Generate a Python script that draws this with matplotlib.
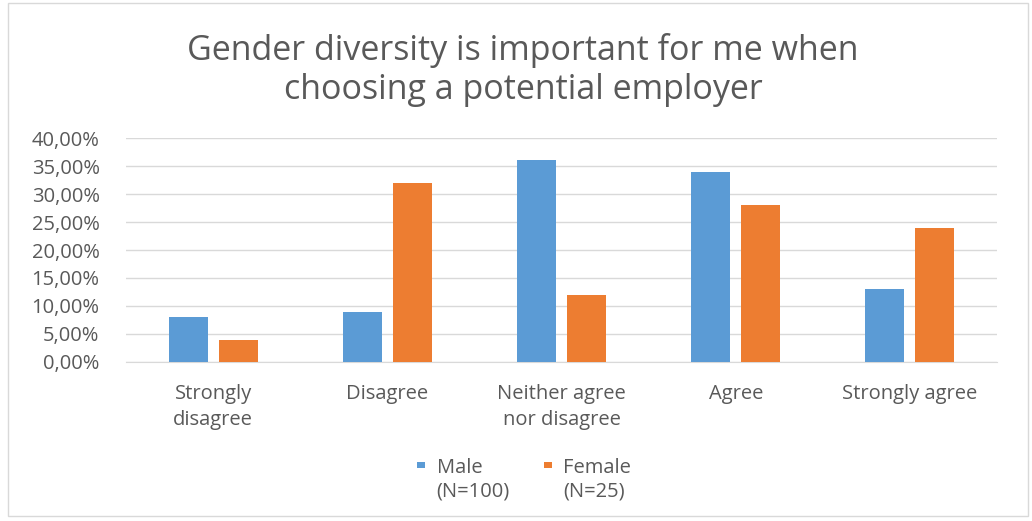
import matplotlib.pyplot as plt
import numpy as np
from matplotlib.patches import Rectangle
from matplotlib.ticker import FuncFormatter

#Chart data (percent of respondents).
categories = ['Strongly\ndisagree', 'Disagree', 'Neither agree\nnor disagree', 'Agree', 'Strongly agree']
series_names = ['Male\n(N=100)', 'Female\n(N=25)']
male = [8, 9, 36, 34, 13]
female = [4, 32, 12, 28, 24]
y_ticks = [0, 5, 10, 15, 20, 25, 30, 35, 40]

blue = '#5B9BD5'
orange = '#ED7D31'
text_gray = '#595959'
grid_gray = '#D9D9D9'

plt.rcParams['font.family'] = ['Open Sans', 'DejaVu Sans']

fig = plt.figure(figsize=(10.32, 5.21), dpi=100)
ax = fig.add_axes([0.1221, 0.3052, 0.8440, 0.4299])

x = np.arange(len(categories))
width = 0.224
gap = 0.063
off = (width + gap) / 2
ax.bar(x - off, male, width, color=blue, zorder=3)
ax.bar(x + off, female, width, color=orange, zorder=3)

ax.set_xlim(-0.5, len(categories) - 0.5)
ax.set_ylim(0, 40)
ax.set_yticks(y_ticks)
ax.yaxis.set_major_formatter(FuncFormatter(lambda v, p: ('%.2f%%' % v).replace('.', ',')))
ax.set_xticks(x)
ax.set_xticklabels(categories, linespacing=1.4)

#Gridlines and spines, Excel style.
ax.grid(axis='y', color=grid_gray, linewidth=1, zorder=0)
for s in ['top', 'right', 'left']:
    ax.spines[s].set_visible(False)
ax.spines['bottom'].set_color(grid_gray)
ax.tick_params(axis='both', length=0, colors=text_gray, labelsize=14.5)
ax.tick_params(axis='y', pad=19)
ax.tick_params(axis='x', pad=16)

#Title.
fig.text(0.507, 0.866, 'Gender diversity is important for me when\nchoosing a potential employer',
         ha='center', va='center', fontsize=24.5, color=text_gray, linespacing=1.2)

#Legend drawn by hand so the marker sits on the first line.
legend_x = [0.404, 0.527]
for lx, name, col in zip(legend_x, series_names, [blue, orange]):
    fig.patches.append(Rectangle((lx, 0.101), 0.0078, 0.0125, transform=fig.transFigure,
                                 facecolor=col, edgecolor='none'))
    fig.text(lx + 0.019, 0.120, name, ha='left', va='top', fontsize=14.5,
             color=text_gray, linespacing=1.2, transform=fig.transFigure)

#Chart border.
fig.patches.append(Rectangle((8 / 1032, 5 / 521), 1020 / 1032, 513 / 521, transform=fig.transFigure,
                             facecolor='none', edgecolor=grid_gray, linewidth=1))

plt.savefig('out.png', dpi=100)
